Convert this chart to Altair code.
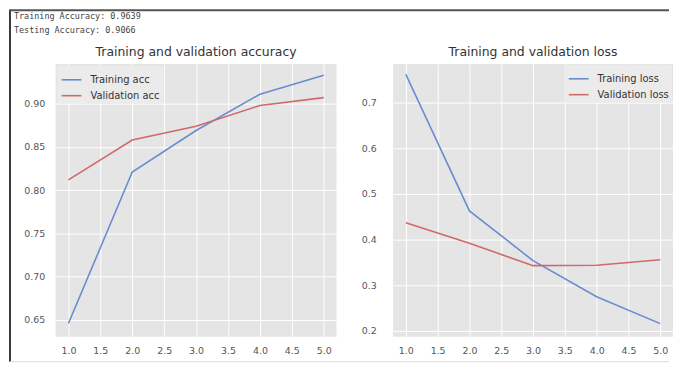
import altair as alt
import pandas as pd

# ---- data ----
epochs = [1, 2, 3, 4, 5]
train_acc = [0.646, 0.821, 0.869, 0.911, 0.933]
val_acc = [0.812, 0.858, 0.874, 0.898, 0.907]
train_loss = [0.762, 0.463, 0.354, 0.275, 0.216]
val_loss = [0.437, 0.392, 0.343, 0.344, 0.356]

x_ticks = [1.0, 1.5, 2.0, 2.5, 3.0, 3.5, 4.0, 4.5, 5.0]
acc_ticks = [0.65, 0.70, 0.75, 0.80, 0.85, 0.90]
loss_ticks = [0.2, 0.3, 0.4, 0.5, 0.6, 0.7]

acc_series = ["Training acc", "Validation acc"]
loss_series = ["Training loss", "Validation loss"]
header_lines = ["Training Accuracy: 0.9639", "Testing Accuracy:  0.9066"]
titles = ["Training and validation accuracy", "Training and validation loss"]

BLUE = "#6a8ccf"
RED = "#cf6a6a"
FONT = "DejaVu Sans"

acc_df = pd.DataFrame({
    "epoch": epochs * 2,
    "value": train_acc + val_acc,
    "series": [acc_series[0]] * len(epochs) + [acc_series[1]] * len(epochs),
})
loss_df = pd.DataFrame({
    "epoch": epochs * 2,
    "value": train_loss + val_loss,
    "series": [loss_series[0]] * len(epochs) + [loss_series[1]] * len(epochs),
})
one = pd.DataFrame({"k": [0]})


def x_enc():
    return alt.X(
        "epoch:Q",
        scale=alt.Scale(domain=[0.8, 5.2], nice=False, zero=False),
        axis=alt.Axis(values=x_ticks, format=".1f", title=None, labelPadding=9),
    )


def legend(orient, offset):
    return alt.Legend(
        orient=orient, title=None, symbolType="stroke", symbolSize=400,
        symbolStrokeWidth=1.6, fillColor="#ebebeb", padding=3, offset=offset,
        labelFont=FONT, labelFontSize=10, labelColor="#333333", labelOffset=8,
        rowPadding=-3, cornerRadius=2,
    )


def title_mark(text, w):
    return alt.Chart(one).mark_text(
        align="center", baseline="middle", font=FONT, fontSize=12.5, color="#333333",
    ).encode(x=alt.value(w / 2), y=alt.value(-12), text=alt.value(text))


acc_lines = alt.Chart(acc_df).mark_line(strokeWidth=1.6).encode(
    x=x_enc(),
    y=alt.Y(
        "value:Q",
        scale=alt.Scale(domain=[0.6305, 0.946], nice=False, zero=False),
        axis=alt.Axis(values=acc_ticks, format=".2f", title=None, labelPadding=11),
    ),
    color=alt.Color("series:N", scale=alt.Scale(domain=acc_series, range=[BLUE, RED]),
                    legend=legend("top-left", 2)),
)

frame_left = alt.Chart(one).mark_rule(color="#3a3a3a", strokeWidth=2).encode(
    x=alt.value(-46), y=alt.value(-54), y2=alt.value(300))
frame_top = alt.Chart(one).mark_rule(color="#555555", strokeWidth=2).encode(
    x=alt.value(-47), x2=alt.value(618), y=alt.value(-54))
frame_bottom = alt.Chart(one).mark_rule(color="#dddddd", strokeWidth=1).encode(
    x=alt.value(-46), x2=alt.value(618), y=alt.value(300))
header = alt.Chart(one).mark_text(
    align="left", baseline="middle", font="DejaVu Sans Mono", fontSize=8.5,
    color="#444444", lineHeight=14,
).encode(x=alt.value(-42), y=alt.value(-48), text=alt.value(header_lines))

left = alt.layer(
    acc_lines, frame_left, frame_top, frame_bottom, header, title_mark(titles[0], 283)
).properties(width=283, height=275)

loss_lines = alt.Chart(loss_df).mark_line(strokeWidth=1.6).encode(
    x=x_enc(),
    y=alt.Y(
        "value:Q",
        scale=alt.Scale(domain=[0.187, 0.785], nice=False, zero=False),
        axis=alt.Axis(values=loss_ticks, format=".1f", title=None, labelPadding=17),
    ),
    color=alt.Color("series:N", scale=alt.Scale(domain=loss_series, range=[BLUE, RED]),
                    legend=legend("top-right", 1)),
)

right = alt.layer(loss_lines, title_mark(titles[1], 282)).properties(width=282, height=275)

chart = alt.hconcat(left, right, spacing=57, bounds="flush").resolve_scale(
    x="independent", y="independent", color="independent"
).resolve_legend(color="independent").configure(
    padding=0, background="white"
).configure_view(
    fill="#e5e5e5", stroke=None
).configure_axis(
    grid=True, gridColor="white", gridWidth=1, domain=False, ticks=False,
    labelFont=FONT, labelFontSize=9.5, labelColor="#555555",
)

chart.save("out.html", embed_options={"renderer": "svg", "actions": False})
